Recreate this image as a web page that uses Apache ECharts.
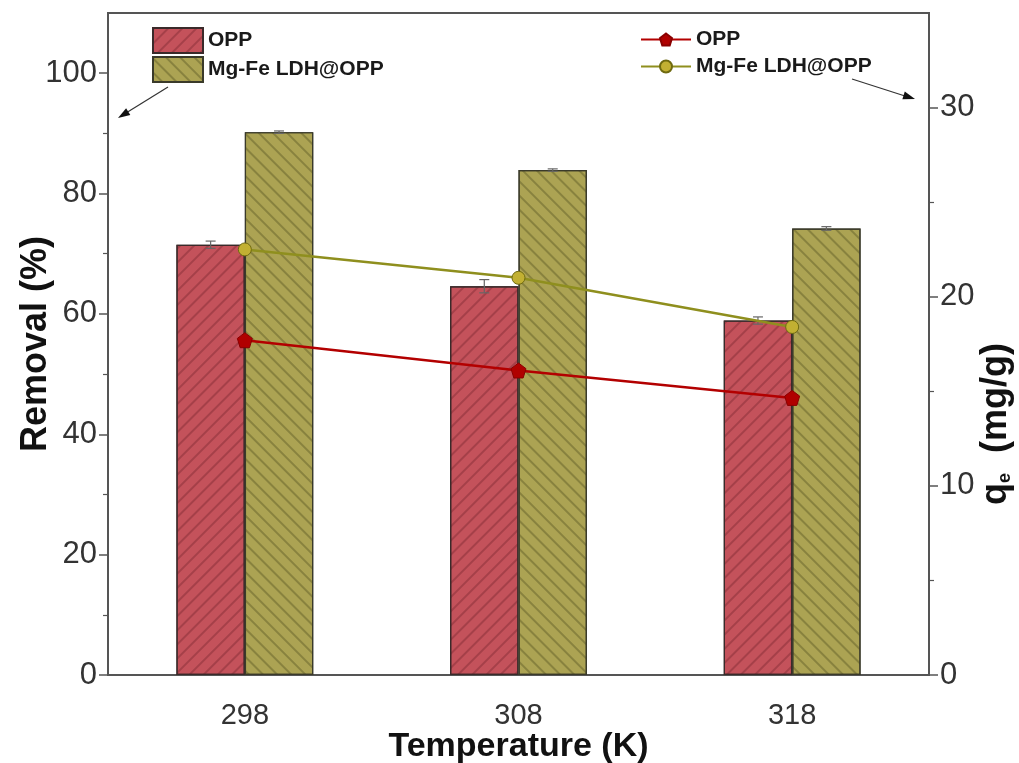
<!DOCTYPE html>
<html>
<head>
<meta charset="utf-8">
<script src="https://cdn.jsdelivr.net/npm/echarts@6/dist/echarts.min.js"></script>
<style>
html,body{margin:0;padding:0;background:#fff;}
#c{width:1019px;height:763px;}
</style>
</head>
<body>
<div id="c"></div>
<script>
// ---- data ----
const categories = ['298', '308', '318'];
const removalOPP = [71.5, 64.6, 58.9];
const removalLDH = [90.2, 83.9, 74.2];
const errOPP = [0.6, 1.1, 0.6];
const errLDH = [0.2, 0.2, 0.3];
const qeOPP = [17.7, 16.1, 14.65];
const qeLDH = [22.5, 21.0, 18.4];
const leftTicks = [0, 20, 40, 60, 80, 100];
const leftMinorTicks = [10, 30, 50, 70, 90];
const rightTicks = [0, 10, 20, 30];
const rightMinorTicks = [5, 15, 25];
const seriesLabels = {
  barOPP: 'OPP', barLDH: 'Mg-Fe LDH@OPP',
  lineOPP: 'OPP', lineLDH: 'Mg-Fe LDH@OPP'
};

const chart = echarts.init(document.getElementById('c'), null, {renderer: 'canvas'});
const axisColor = '#555';
const labelColor = '#333';
const font = 'Liberation Sans, Arial, sans-serif';

function errRender(sign) {
  return function (params, api) {
    const i = api.value(0), v = api.value(1), e = api.value(2);
    const band = api.size([1, 0])[0];
    const x = api.coord([i, v])[0] + sign * band * 0.125;
    const yHi = api.coord([i, v + e])[1];
    const yLo = api.coord([i, v - e])[1];
    const cap = 5;
    const st = {stroke: '#666', lineWidth: 1.2};
    return {type: 'group', children: [
      {type: 'line', shape: {x1: x, y1: yHi, x2: x, y2: yLo}, style: st},
      {type: 'line', shape: {x1: x - cap, y1: yHi, x2: x + cap, y2: yHi}, style: st},
      {type: 'line', shape: {x1: x - cap, y1: yLo, x2: x + cap, y2: yLo}, style: st}
    ]};
  };
}

function decal(rot, color) {
  return {symbol: 'rect', symbolSize: 1, dashArrayX: [1, 0], dashArrayY: [1.5, 8], rotation: rot, color: color};
}

const tickFont = {fontFamily: font, color: labelColor};
const nameFont = {fontFamily: font, fontWeight: 'bold', color: '#111'};

function minorAxis(pos, max, ticks) {
  return {
    type: 'value', min: 0, max: max, position: pos,
    axisLine: {show: false}, axisLabel: {show: false}, splitLine: {show: false},
    axisTick: {show: true, length: 5, customValues: ticks, lineStyle: {color: axisColor, width: 1.2}}
  };
}

const option = {
  backgroundColor: '#fff',
  animation: false,
  grid: {left: 108, right: 90, top: 13, bottom: 88, outerBoundsMode: 'none', containLabel: false,
    show: true, borderColor: axisColor, borderWidth: 2, backgroundColor: 'transparent'},
  legend: [
    {
      data: ['barOPP', 'barLDH'], orient: 'vertical', left: 147, top: 22,
      icon: 'rect', itemWidth: 50, itemHeight: 25, itemGap: 2,
      formatter: n => seriesLabels[n],
      textStyle: Object.assign({fontSize: 21}, nameFont, {color: '#1a1a1a'})
    },
    {
      data: ['lineOPP', 'lineLDH'], orient: 'vertical', left: 635, top: 24,
      itemWidth: 50, itemHeight: 15, itemGap: 6,
      formatter: n => seriesLabels[n],
      textStyle: Object.assign({fontSize: 21}, nameFont, {color: '#1a1a1a'})
    }
  ],
  xAxis: {
    type: 'category', data: categories,
    name: 'Temperature (K)', nameLocation: 'middle', nameGap: 55, nameMoveOverlap: false,
    nameTextStyle: Object.assign({fontSize: 34}, nameFont),
    axisLine: {lineStyle: {color: axisColor, width: 2}},
    axisTick: {alignWithLabel: true, length: 10, lineStyle: {color: axisColor, width: 1.5}},
    axisLabel: Object.assign({fontSize: 29, margin: 26}, tickFont)
  },
  yAxis: [
    {
      type: 'value', min: 0, max: 110, position: 'left',
      name: 'Removal (%)', nameLocation: 'middle', nameGap: 54, nameRotate: 90, nameMoveOverlap: false,
      nameTextStyle: Object.assign({fontSize: 36}, nameFont),
      axisLine: {show: true, lineStyle: {color: axisColor, width: 2}},
      axisTick: {show: true, length: 9, customValues: leftTicks, lineStyle: {color: axisColor, width: 1.5}},
      axisLabel: Object.assign({fontSize: 31, margin: 11, customValues: leftTicks}, tickFont),
      splitLine: {show: false}
    },
    {
      type: 'value', min: 0, max: 35, position: 'right',
      name: '{q|q}{e|e}{t|  (mg/g)}', nameLocation: 'middle', nameGap: 49, nameRotate: 90, nameMoveOverlap: false,
      nameTextStyle: Object.assign({
        fontSize: 36, padding: [0, 160, 0, 0],
        rich: {
          q: Object.assign({fontSize: 36}, nameFont),
          e: Object.assign({fontSize: 18, verticalAlign: 'bottom', padding: [17, 0, 0, 0]}, nameFont),
          t: Object.assign({fontSize: 36}, nameFont)
        }
      }, nameFont),
      axisLine: {show: true, lineStyle: {color: axisColor, width: 2}},
      axisTick: {show: true, length: 9, customValues: rightTicks, lineStyle: {color: axisColor, width: 1.5}},
      axisLabel: Object.assign({fontSize: 31, margin: 11, customValues: rightTicks}, tickFont),
      splitLine: {show: false}
    },
    minorAxis('left', 110, leftMinorTicks),
    minorAxis('right', 35, rightMinorTicks)
  ],
  series: [
    {
      name: 'barOPP', type: 'bar', yAxisIndex: 0, data: removalOPP,
      barWidth: '25%', barGap: '0%',
      itemStyle: {color: '#c4525b', borderColor: '#3a2a2a', borderWidth: 1.2, decal: decal(-Math.PI / 4, 'rgba(100,25,35,0.32)')}
    },
    {
      name: 'barLDH', type: 'bar', yAxisIndex: 0, data: removalLDH,
      barWidth: '25%', barGap: '0%',
      itemStyle: {color: '#aca353', borderColor: '#3a3a2a', borderWidth: 1.2, decal: decal(Math.PI / 4, 'rgba(60,60,20,0.32)')}
    },
    {
      type: 'custom', yAxisIndex: 0, z: 5, renderItem: errRender(-1),
      encode: {x: 0, y: 1},
      data: categories.map((c, i) => [i, removalOPP[i], errOPP[i]])
    },
    {
      type: 'custom', yAxisIndex: 0, z: 5, renderItem: errRender(1),
      encode: {x: 0, y: 1},
      data: categories.map((c, i) => [i, removalLDH[i], errLDH[i]])
    },
    {
      name: 'lineOPP', type: 'line', yAxisIndex: 1, data: qeOPP, z: 10,
      symbol: 'path://M50,0 L100,38 L81,100 L19,100 L0,38 Z', symbolSize: 15,
      lineStyle: {color: '#b30000', width: 2.5},
      itemStyle: {color: '#b00000', borderColor: '#8a0000', borderWidth: 1}
    },
    {
      name: 'lineLDH', type: 'line', yAxisIndex: 1, data: qeLDH, z: 10,
      symbol: 'circle', symbolSize: 13,
      lineStyle: {color: '#8f8f1e', width: 2.5},
      itemStyle: {color: '#c2b032', borderColor: '#6f6a10', borderWidth: 1}
    }
  ],
  graphic: [
    {type: 'line', shape: {x1: 168, y1: 87, x2: 126, y2: 113}, style: {stroke: '#333', lineWidth: 1.2}},
    {type: 'polygon', shape: {points: [[118, 118], [130.3, 115.1], [126.1, 108.3]]}, style: {fill: '#111'}},
    {type: 'line', shape: {x1: 852, y1: 79, x2: 905, y2: 96}, style: {stroke: '#333', lineWidth: 1.2}},
    {type: 'polygon', shape: {points: [[915, 99], [902.4, 99.2], [904.8, 91.6]]}, style: {fill: '#111'}}
  ]
};
chart.setOption(option);
</script>
</body>
</html>
